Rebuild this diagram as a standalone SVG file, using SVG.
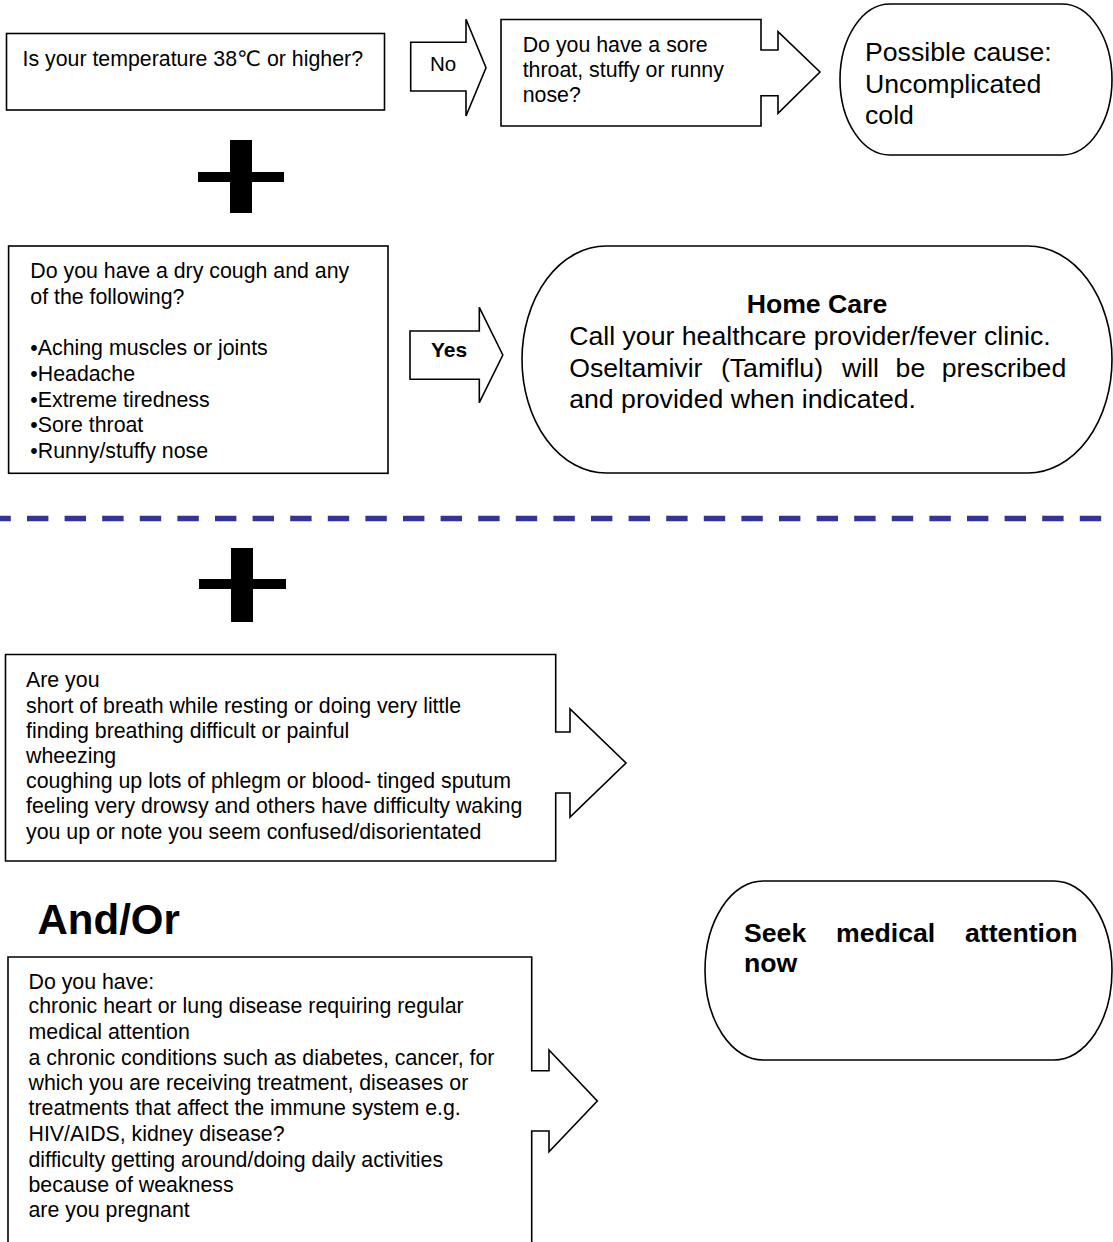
<svg xmlns="http://www.w3.org/2000/svg" width="1113" height="1242" viewBox="0 0 1113 1242">
<style>
.shape{fill:#fff;stroke:#000;stroke-width:1.6}
.t{font-family:"Liberation Sans",Arial,"DejaVu Sans",sans-serif;font-size:21.33px;fill:#000}
.big{font-size:26.67px}
.b{font-weight:bold}
.plus{fill:#000}
</style>
<rect width="1113" height="1242" fill="#fff"/>

<g id="q-temperature">
<rect class="shape" x="6.5" y="33.5" width="378" height="76.5"/>
<text class="t" x="22.5" y="65.7">Is your temperature 38℃ or higher?</text>
</g>

<g id="q-sore-throat">
<path class="shape" d="M501,19.5 H761 V50 H778 V31.7 L820,72 L778,113.3 V95.7 H761 V126 H501 Z"/>
<text class="t" x="522.7" y="51.7">Do you have a sore</text>
<text class="t" x="522.7" y="77">throat, stuffy or runny</text>
<text class="t" x="522.7" y="101.7">nose?</text>
</g>

<g id="r-cold">
<rect class="shape" x="840" y="4" width="272" height="151" rx="50" ry="75.5"/>
<text class="t big" x="865" y="61">Possible cause:</text>
<text class="t big" x="865" y="92.5">Uncomplicated</text>
<text class="t big" x="865" y="124">cold</text>
</g>

<g id="plus-1">
<rect class="plus" x="230" y="140" width="22" height="73"/>
<rect class="plus" x="198" y="172" width="86" height="10"/>
</g>

<g id="q-dry-cough">
<rect class="shape" x="8.6" y="246" width="379.4" height="227.3"/>
<text class="t" x="30.3" y="278.3">Do you have a dry cough and any</text>
<text class="t" x="30.3" y="304">of the following?</text>
<text class="t" x="30.3" y="355">•Aching muscles or joints</text>
<text class="t" x="30.3" y="380.7">•Headache</text>
<text class="t" x="30.3" y="406.7">•Extreme tiredness</text>
<text class="t" x="30.3" y="432.3">•Sore throat</text>
<text class="t" x="30.3" y="457.7">•Runny/stuffy nose</text>
</g>

<g id="r-home-care">
<rect class="shape" x="522" y="246" width="590" height="227" rx="84" ry="113.5"/>
<text class="t big b" x="817" y="313" text-anchor="middle">Home Care</text>
<text class="t big" x="569.2" y="345">Call your healthcare provider/fever clinic.</text>
<text class="t big" y="377"><tspan x="569.2">Oseltamivir</tspan><tspan x="720.9">(Tamiflu)</tspan><tspan x="842">will</tspan><tspan x="895.6">be</tspan><tspan x="941.8">prescribed</tspan></text>
<text class="t big" x="569.2" y="408">and provided when indicated.</text>
</g>

<g id="divider">
<line x1="0" y1="518.5" x2="1113" y2="518.5" stroke="#333399" stroke-width="5.3" stroke-dasharray="21.4 16.2" stroke-dashoffset="10.6"/>
</g>

<g id="plus-2">
<rect class="plus" x="231" y="548" width="22" height="74"/>
<rect class="plus" x="199" y="579" width="87" height="10"/>
</g>

<g id="q-are-you">
<path class="shape" d="M5.5,654.5 H555.7 V732 H570 V709 L626,763 L570,817 V793 H555.7 V861 H5.5 Z"/>
<text class="t" x="26" y="686.7">Are you</text>
<text class="t" x="26" y="712.7">short of breath while resting or doing very little</text>
<text class="t" x="26" y="737.7">finding breathing difficult or painful</text>
<text class="t" x="26" y="763.3">wheezing</text>
<text class="t" x="26" y="788.3">coughing up lots of phlegm or blood- tinged sputum</text>
<text class="t" x="26" y="813.3">feeling very drowsy and others have difficulty waking</text>
<text class="t" x="26" y="839">you up or note you seem confused/disorientated</text>
</g>

<g id="label-and-or">
<text class="t b" x="37.5" y="934" style="font-size:42px">And/Or</text>
</g>

<g id="q-do-you-have">
<path class="shape" d="M8,957 H531.7 V1070.7 H549 V1050 L597.3,1101 L549,1151.7 V1131 H531.7 V1250 H8 Z"/>
<text class="t" x="28.5" y="989.3">Do you have:</text>
<text class="t" x="28.5" y="1013.3">chronic heart or lung disease requiring regular</text>
<text class="t" x="28.5" y="1039">medical attention</text>
<text class="t" x="28.5" y="1065">a chronic conditions such as diabetes, cancer, for</text>
<text class="t" x="28.5" y="1090">which you are receiving treatment, diseases or</text>
<text class="t" x="28.5" y="1115">treatments that affect the immune system e.g.</text>
<text class="t" x="28.5" y="1141">HIV/AIDS, kidney disease?</text>
<text class="t" x="28.5" y="1166.7">difficulty getting around/doing daily activities</text>
<text class="t" x="28.5" y="1191.7">because of weakness</text>
<text class="t" x="28.5" y="1217.3">are you pregnant</text>
</g>

<g id="r-seek">
<rect class="shape" x="705" y="881" width="407" height="179" rx="58" ry="89.5"/>
<text class="t big b" y="941.7"><tspan x="744">Seek</tspan><tspan x="836">medical</tspan><tspan x="965">attention</tspan></text>
<text class="t big b" x="744" y="971.7">now</text>
</g>

<g id="connectors">
<g id="arrow-no">
<path class="shape" d="M410.7,42.3 H466 V19.3 L486,67.7 L466,116 V91 H410.7 Z"/>
<text class="t" x="430" y="71" style="font-size:20.5px">No</text>
</g>
<g id="arrow-yes">
<path class="shape" d="M410,331 H479.3 V307.3 L502.8,355 L479.3,402.7 V379.3 H410 Z"/>
<text class="t b" x="431" y="356.7" style="font-size:21px">Yes</text>
</g>
</g>
</svg>
